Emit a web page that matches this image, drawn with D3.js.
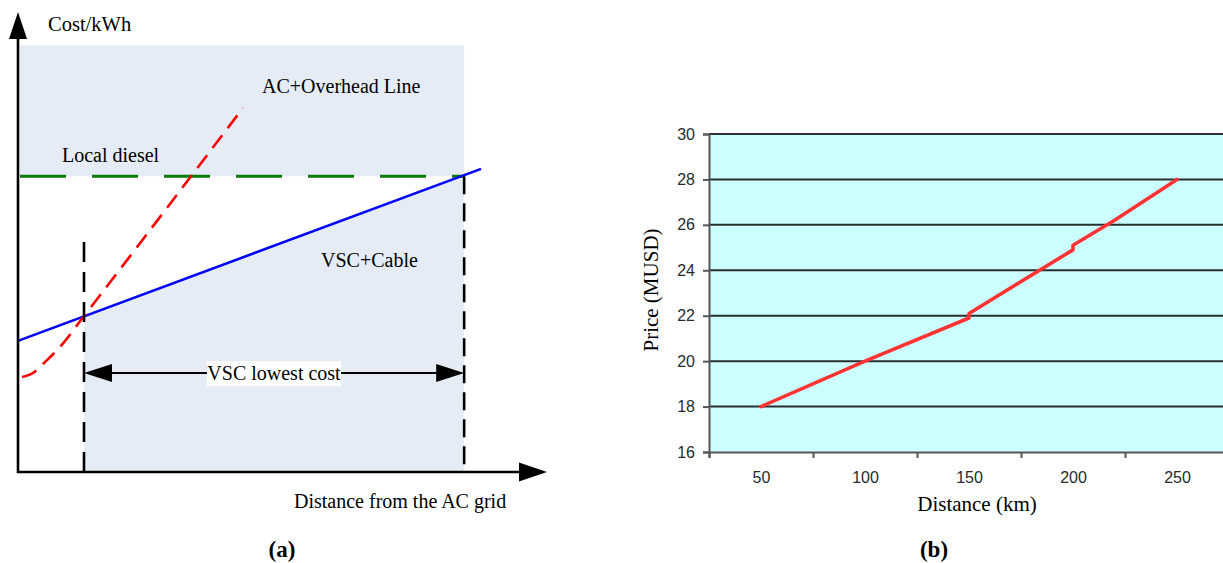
<!DOCTYPE html>
<html>
<head>
<meta charset="utf-8">
<script src="https://cdn.jsdelivr.net/npm/d3@7"></script>
<style>
  html, body { margin: 0; padding: 0; background: #fff; }
  svg { display: block; }
</style>
</head>
<body>
<svg id="chart" width="1223" height="563"></svg>
<script>
// ---------- Panel (a): schematic cost vs distance (arbitrary units 0..100) ----------
const dieselCost = 64.3;              // flat cost of local diesel
const dieselSpan = [0, 84.5];         // distance range of diesel line
const vscDist = [0, 87.7];            // VSC + cable line endpoints (distance)
const vscCost = [28.5, 65.9];         // VSC + cable line endpoints (cost)
const acDist = [0.76, 2.84, 5.11, 7.95, 12.5, 42.6];   // AC + overhead line (distance)
const acCost = [20.65, 21.52, 23.91, 27.17, 33.91, 79.13]; // AC + overhead line (cost)
const crossoverDist = 12.5;           // VSC becomes cheaper than AC
const breakevenDist = 84.5;           // VSC as expensive as diesel
const crossoverMarkTop = 50;          // top of left dashed marker
const lowestCostArrowY = 21.5;        // level of "VSC lowest cost" arrow
const shadeTop = 92.8;                // top of shaded background

// ---------- Panel (b): price vs distance ----------
const distKm = [50, 100, 150, 150, 200, 200, 220, 250];
const priceMusd = [18, 20, 21.9, 22.1, 24.9, 25.1, 26.2, 28];
const yTicksB = [16, 18, 20, 22, 24, 26, 28, 30];
const xLabelsB = [50, 100, 150, 200, 250];
const xTickMarksB = [25, 75, 125, 175, 225, 275];

const svg = d3.select("#chart");
svg.append("rect").attr("width", 1223).attr("height", 563).attr("fill", "#fff");

const serif = "'Liberation Serif', 'Times New Roman', serif";
const sans = "'Liberation Sans', Arial, sans-serif";

// ================= Panel (a) =================
const xA = d3.scaleLinear().domain([0, 100]).range([18, 546]);
const yA = d3.scaleLinear().domain([0, 100]).range([472, 12]);
const gA = svg.append("g");
const shade = "#e5ecf6";
const vscAt = d => vscCost[0] + (d - vscDist[0]) * (vscCost[1] - vscCost[0]) / (vscDist[1] - vscDist[0]);

// shading above diesel line
gA.append("rect")
  .attr("x", xA(0.4)).attr("y", yA(shadeTop))
  .attr("width", xA(breakevenDist) - xA(0.4))
  .attr("height", yA(dieselCost) - yA(shadeTop))
  .attr("fill", shade);
// shading below VSC line between crossover and breakeven
gA.append("path")
  .attr("d", d3.line()([
    [xA(crossoverDist), yA(vscAt(crossoverDist))],
    [xA(breakevenDist), yA(vscAt(breakevenDist))],
    [xA(breakevenDist), yA(0)],
    [xA(crossoverDist), yA(0)]
  ]) + "Z")
  .attr("fill", shade);

// diesel dashed line
gA.append("line")
  .attr("x1", xA(dieselSpan[0]) + 2).attr("x2", xA(dieselSpan[1]))
  .attr("y1", yA(dieselCost)).attr("y2", yA(dieselCost))
  .attr("stroke", "#0a7a0a").attr("stroke-width", 3)
  .attr("stroke-dasharray", "46,26");

// VSC line
gA.append("line")
  .attr("x1", xA(vscDist[0])).attr("y1", yA(vscCost[0]))
  .attr("x2", xA(vscDist[1])).attr("y2", yA(vscCost[1]))
  .attr("stroke", "#0000ff").attr("stroke-width", 2.6);

// AC dashed curve
gA.append("path")
  .attr("d", d3.line().x((d, i) => xA(acDist[i])).y((d, i) => yA(acCost[i])).curve(d3.curveMonotoneX)(acDist))
  .attr("fill", "none").attr("stroke", "#ff0000").attr("stroke-width", 2.6)
  .attr("stroke-dasharray", "16,9");

// vertical dashed markers
gA.append("line")
  .attr("x1", xA(crossoverDist)).attr("x2", xA(crossoverDist))
  .attr("y1", yA(crossoverMarkTop)).attr("y2", yA(0))
  .attr("stroke", "#000").attr("stroke-width", 2.6).attr("stroke-dasharray", "20,10");
gA.append("line")
  .attr("x1", xA(breakevenDist)).attr("x2", xA(breakevenDist))
  .attr("y1", yA(dieselCost)).attr("y2", yA(0))
  .attr("stroke", "#000").attr("stroke-width", 2.6).attr("stroke-dasharray", "18,9");

// axes with arrowheads
gA.append("line").attr("x1", xA(0)).attr("x2", xA(0)).attr("y1", yA(0) + 1).attr("y2", 38)
  .attr("stroke", "#000").attr("stroke-width", 2.6);
gA.append("path").attr("d", `M${xA(0) - 9},39L${xA(0) + 9},39L${xA(0)},12Z`).attr("fill", "#000");
gA.append("line").attr("x1", xA(0) - 1).attr("x2", 520).attr("y1", yA(0)).attr("y2", yA(0))
  .attr("stroke", "#000").attr("stroke-width", 2.6);
gA.append("path").attr("d", `M519,${yA(0) - 9.5}L519,${yA(0) + 9.5}L547,${yA(0)}Z`).attr("fill", "#000");

// double arrow
const ay = yA(lowestCostArrowY);
const ax1 = xA(crossoverDist), ax2 = xA(breakevenDist);
gA.append("line").attr("x1", ax1 + 20).attr("x2", ax2 - 20).attr("y1", ay).attr("y2", ay)
  .attr("stroke", "#000").attr("stroke-width", 2);
gA.append("path").attr("d", `M${ax1},${ay}L${ax1 + 28},${ay - 9}L${ax1 + 28},${ay + 9}Z`).attr("fill", "#000");
gA.append("path").attr("d", `M${ax2},${ay}L${ax2 - 28},${ay - 9}L${ax2 - 28},${ay + 9}Z`).attr("fill", "#000");
gA.append("rect").attr("x", 207).attr("y", ay - 12).attr("width", 134).attr("height", 25).attr("fill", "#fff");

const textA = (t, x, y, opts = {}) => gA.append("text")
  .attr("x", x).attr("y", y).text(t)
  .attr("font-family", serif).attr("font-size", opts.size || 20)
  .attr("font-weight", opts.weight || "normal")
  .attr("text-anchor", opts.anchor || "start").attr("fill", "#000");

textA("VSC lowest cost", 274, ay + 7, { anchor: "middle" });
textA("Cost/kWh", 48, 31, { size: 20.5 });
textA("AC+Overhead Line", 262, 93);
textA("Local diesel", 62, 162);
textA("VSC+Cable", 321, 267);
textA("Distance from the AC grid", 294, 508);
textA("(a)", 282, 557, { anchor: "middle", weight: "bold", size: 23 });

// ================= Panel (b) =================
const xB = d3.scaleLinear().domain([25, 275]).range([709, 1229]);
const yB = d3.scaleLinear().domain([16, 30]).range([452, 134]);
const gB = svg.append("g");

gB.append("rect").attr("x", xB(25)).attr("y", yB(30))
  .attr("width", xB(275) - xB(25)).attr("height", yB(16) - yB(30)).attr("fill", "#ccffff");

// gridlines
gB.append("g").selectAll("line").data(yTicksB.filter(v => v > 16)).join("line")
  .attr("x1", xB(25)).attr("x2", xB(275))
  .attr("y1", d => yB(d)).attr("y2", d => yB(d))
  .attr("stroke", "#2a2f2f").attr("stroke-width", 2);

// y axis
const yAxisB = gB.append("g").attr("transform", `translate(${xB(25)},0)`)
  .call(d3.axisLeft(yB).tickValues(yTicksB).tickSize(6).tickPadding(8).tickFormat(d3.format("d")));
// x axis tick marks
const xAxisB = gB.append("g").attr("transform", `translate(0,${yB(16)})`)
  .call(d3.axisBottom(xB).tickValues(xTickMarksB).tickSize(6).tickFormat(""));
// x axis labels
const xLabB = gB.append("g").attr("transform", `translate(0,${yB(16)})`)
  .call(d3.axisBottom(xB).tickValues(xLabelsB).tickSize(0).tickPadding(20).tickFormat(d3.format("d")));
xLabB.select(".domain").remove();

[yAxisB, xAxisB].forEach(g => {
  g.select(".domain").attr("stroke", "#555").attr("stroke-width", 2);
  g.selectAll(".tick line").attr("stroke", "#555").attr("stroke-width", 2);
});
[yAxisB, xLabB].forEach(g => {
  g.selectAll("text").attr("font-family", sans).attr("font-size", 16).attr("fill", "#2a2a2a");
});

// price line
gB.append("path")
  .attr("d", d3.line().x((d, i) => xB(distKm[i])).y((d, i) => yB(priceMusd[i]))(distKm))
  .attr("fill", "none").attr("stroke", "#ff3333").attr("stroke-width", 3.6)
  .attr("stroke-linecap", "round").attr("stroke-linejoin", "round");

// titles
gB.append("text").text("Distance (km)")
  .attr("x", 977).attr("y", 511).attr("text-anchor", "middle")
  .attr("font-family", serif).attr("font-size", 21).attr("fill", "#000");
gB.append("text").text("Price (MUSD)")
  .attr("transform", "translate(658,290) rotate(-90)").attr("text-anchor", "middle")
  .attr("font-family", serif).attr("font-size", 21).attr("fill", "#000");
gB.append("text").text("(b)")
  .attr("x", 934).attr("y", 557).attr("text-anchor", "middle")
  .attr("font-family", serif).attr("font-size", 23).attr("font-weight", "bold").attr("fill", "#000");
</script>
</body>
</html>
